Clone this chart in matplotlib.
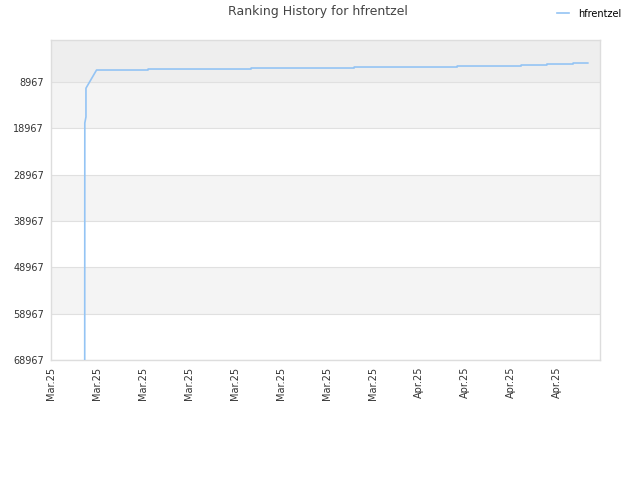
import matplotlib
matplotlib.use("Agg")
import matplotlib.pyplot as plt

title = "Ranking History for hfrentzel"
series_name = "hfrentzel"
x_labels = ["Mar.25"] * 8 + ["Apr.25"] * 4
y_ticks = [8967, 18967, 28967, 38967, 48967, 58967, 68967]
x_vals = [0.733, 0.735, 0.76, 0.76, 0.99, 2.11, 2.11, 4.35, 4.35, 6.59, 6.59,
          8.83, 8.83, 10.22, 10.22, 10.78, 10.78, 11.35, 11.35, 11.67]
ranks = [68967, 17800, 16500, 10300, 6375, 6375, 6160, 6160, 5943, 5943, 5727,
         5727, 5511, 5511, 5295, 5295, 5079, 5079, 4863, 4863]

fig = plt.figure(figsize=(6.4, 4.8), dpi=100)
ax = fig.add_axes([51/640, 120/480, 549/640, 320/480])

ymin_top = -104
ax.axhspan(ymin_top, y_ticks[0], color="#eeeeee", zorder=0, lw=0)
for i in range(len(y_ticks) - 1):
    c = "#f4f4f4" if i % 2 == 0 else "#ffffff"
    ax.axhspan(y_ticks[i], y_ticks[i + 1], color=c, zorder=0, lw=0)
for t in y_ticks:
    ax.axhline(t, color="#e0e0e0", lw=0.8, zorder=1)

ax.plot(x_vals, ranks, color="#94c4f4", lw=1.2, zorder=3, label=series_name)

ax.set_xlim(0, 549/46)
ax.set_ylim(68967, ymin_top)
ax.set_yticks(y_ticks)
ax.set_yticklabels([str(t) for t in y_ticks])
ax.set_xticks(range(len(x_labels)))
ax.set_xticklabels(x_labels, rotation=90)
ax.tick_params(axis="both", length=0, labelsize=7, colors="#333333", pad=5)
for s in ax.spines.values():
    s.set_color("#dddddd")
    s.set_linewidth(1)

fig.text(0.497, 0.975, title, ha="center", va="center", fontsize=9, color="#444444")
leg = fig.legend(loc="upper right", bbox_to_anchor=(0.985, 1.0), frameon=False,
                 fontsize=7, handlelength=1.2, handletextpad=1.0)
plt.savefig("out.png", dpi=100)
